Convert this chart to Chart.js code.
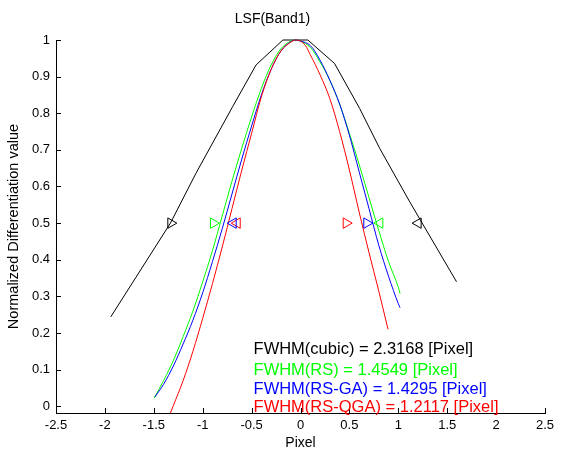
<!DOCTYPE html>
<html>
<head>
<meta charset="utf-8">
<script src="https://cdn.jsdelivr.net/npm/chart.js@4/dist/chart.umd.min.js"></script>
<style>
html,body{margin:0;padding:0;background:#fff;}
canvas{display:block;}
</style>
</head>
<body>
<canvas id="c" width="562" height="452"></canvas>
<script>
// ---------- data ----------
const xTicks = [-2.5, -2, -1.5, -1, -0.5, 0, 0.5, 1, 1.5, 2, 2.5];
const xTickLabels = ['-2.5', '-2', '-1.5', '-1', '-0.5', '0', '0.5', '1', '1.5', '2', '2.5'];
const yTicks = [0, 0.1, 0.2, 0.3, 0.4, 0.5, 0.6, 0.7, 0.8, 0.9, 1];
const yTickLabels = ['0', '0.1', '0.2', '0.3', '0.4', '0.5', '0.6', '0.7', '0.8', '0.9', '1'];

const seriesNames = ['cubic', 'RS', 'RS-GA', 'RS-QGA'];
const fwhmValues = ['2.3168', '1.4549', '1.4295', '1.2117'];

const cubicX = [-1.94, -1.33, -1.069, -0.694, -0.454, -0.18, 0.075, 0.348, 0.605, 0.81, 1.117, 1.595];
const cubicY = [0.244, 0.50, 0.636, 0.818, 0.932, 1.0, 1.0, 0.936, 0.813, 0.704, 0.558, 0.34];

const rsX = [-1.496, -1.4, -1.3, -1.2, -1.1, -1.0, -0.9, -0.8, -0.7, -0.6, -0.5, -0.4, -0.3, -0.2, -0.1, -0.05, 0, 0.1, 0.2, 0.3, 0.4, 0.5, 0.6, 0.7, 0.8, 0.9, 1.0, 1.018];
const rsY = [0.022, 0.07, 0.125, 0.19, 0.26, 0.34, 0.425, 0.52, 0.615, 0.705, 0.79, 0.868, 0.932, 0.976, 0.997, 1.0, 0.997, 0.98, 0.94, 0.89, 0.825, 0.745, 0.66, 0.57, 0.48, 0.395, 0.325, 0.308];

const rsgaX = [-1.49, -1.4, -1.3, -1.2, -1.1, -1.0, -0.9, -0.8, -0.7, -0.6, -0.5, -0.4, -0.3, -0.2, -0.1, -0.05, 0, 0.1, 0.2, 0.3, 0.4, 0.5, 0.6, 0.7, 0.8, 0.9, 1.0, 1.018];
const rsgaY = [0.025, 0.06, 0.11, 0.17, 0.235, 0.31, 0.395, 0.485, 0.58, 0.675, 0.765, 0.85, 0.92, 0.97, 0.995, 1.0, 0.997, 0.985, 0.945, 0.89, 0.825, 0.74, 0.64, 0.54, 0.44, 0.355, 0.28, 0.269];

const rsqgaX = [-1.33, -1.3, -1.2, -1.1, -1.0, -0.9, -0.8, -0.7, -0.6, -0.5, -0.4, -0.3, -0.2, -0.1, -0.05, 0, 0.05, 0.1, 0.2, 0.3, 0.4, 0.5, 0.6, 0.7, 0.8, 0.895];
const rsqgaY = [-0.0185, 0.002, 0.07, 0.15, 0.24, 0.335, 0.435, 0.54, 0.645, 0.745, 0.845, 0.92, 0.97, 0.994, 1.0, 0.997, 0.985, 0.96, 0.905, 0.84, 0.75, 0.645, 0.53, 0.42, 0.315, 0.21];

// half-maximum markers (left, right) per series
const markLevel = 0.5;
const cubicMarks = [-1.326, 1.203];
const rsMarks = [-0.89, 0.811];
const rsgaMarks = [-0.688, 0.678];
const rsqgaMarks = [-0.647, 0.467];

// ---------- styling / layout ----------
const FONT = "'Liberation Sans', Arial, Helvetica, sans-serif";
const colors = ['#000000', '#00ff00', '#0000ff', '#ff0000'];
const markRot = [[90, -90], [90, -90], [-90, 90], [-90, 90]]; // ▷ / ◁ orientation
const textAnchorX = -0.48;
const textAnchorY = [0.155, 0.099, 0.047, -0.004];

const pts = (xs, ys) => xs.map((x, i) => ({x, y: ys[i]}));
const curves = [pts(cubicX, cubicY), pts(rsX, rsY), pts(rsgaX, rsgaY), pts(rsqgaX, rsqgaY)];
const marks = [cubicMarks, rsMarks, rsgaMarks, rsqgaMarks];

const datasets = [];
curves.forEach((d, i) => {
  datasets.push({
    label: seriesNames[i],
    data: d,
    borderColor: colors[i],
    borderWidth: 1,
    pointRadius: 0,
    showLine: true,
    fill: false,
    tension: i === 0 ? 0 : 0.4,
    cubicInterpolationMode: i === 0 ? 'default' : 'monotone',
    clip: false,
    order: 10 - i
  });
});
marks.forEach((m, i) => {
  datasets.push({
    label: seriesNames[i] + ' FWHM',
    data: m.map(x => ({x, y: markLevel})),
    showLine: false,
    borderColor: colors[i],
    backgroundColor: 'rgba(0,0,0,0)',
    pointStyle: 'triangle',
    pointRadius: 6,
    pointBorderWidth: 1,
    pointRotation: markRot[i],
    order: 0
  });
});

const insideTicks = {
  id: 'insideTicks',
  afterDatasetsDraw(chart) {
    const {ctx, chartArea: a, scales: {x, y}} = chart;
    ctx.save();
    ctx.strokeStyle = '#000';
    ctx.lineWidth = 1;
    ctx.beginPath();
    xTicks.forEach(v => {
      const px = Math.round(x.getPixelForValue(v)) + 0.5;
      ctx.moveTo(px, a.bottom);
      ctx.lineTo(px, a.bottom - 5);
    });
    yTicks.forEach(v => {
      const py = Math.round(y.getPixelForValue(v)) + 0.5;
      ctx.moveTo(a.left, py);
      ctx.lineTo(a.left + 5, py);
    });
    ctx.stroke();
    ctx.restore();
  }
};

const fwhmText = {
  id: 'fwhmText',
  afterDraw(chart) {
    const {ctx, scales: {x, y}} = chart;
    ctx.save();
    ctx.font = '16.5px ' + FONT;
    ctx.textAlign = 'left';
    ctx.textBaseline = 'middle';
    seriesNames.forEach((n, i) => {
      ctx.fillStyle = colors[i];
      ctx.fillText('FWHM(' + n + ') = ' + fwhmValues[i] + ' [Pixel]',
        x.getPixelForValue(textAnchorX), y.getPixelForValue(textAnchorY[i]));
    });
    ctx.restore();
  }
};

new Chart(document.getElementById('c'), {
  type: 'scatter',
  data: {datasets},
  plugins: [insideTicks, fwhmText],
  options: {
    responsive: false,
    animation: false,
    devicePixelRatio: 1,
    layout: {padding: {top: 0, right: 17, bottom: 0, left: 0}},
    plugins: {
      legend: {display: false},
      tooltip: {enabled: false},
      title: {
        display: true,
        text: 'LSF(Band1)',
        color: '#000',
        font: {family: FONT, size: 14, weight: 'normal'},
        padding: {top: 10.6, bottom: 12.6}
      }
    },
    scales: {
      x: {
        type: 'linear',
        min: -2.5, max: 2.5,
        afterBuildTicks: s => { s.ticks = xTicks.map(v => ({value: v})); },
        afterFit: s => { s.height = 39; },
        grid: {display: false, drawTicks: false},
        border: {display: true, color: '#000', width: 1},
        ticks: {
          color: '#000', padding: 5, maxRotation: 0, autoSkip: false,
          font: {family: FONT, size: 13},
          callback: (v, i) => xTickLabels[i]
        },
        title: {display: true, text: 'Pixel', color: '#000', font: {family: FONT, size: 14}, padding: {top: 0, bottom: 0}}
      },
      y: {
        type: 'linear',
        min: -0.0185, max: 1,
        afterBuildTicks: s => { s.ticks = yTicks.map(v => ({value: v})); },
        afterFit: s => { s.width = 56; },
        grid: {display: false, drawTicks: false},
        border: {display: true, color: '#000', width: 1},
        ticks: {
          color: '#000', padding: 6, autoSkip: false,
          font: {family: FONT, size: 13},
          callback: (v, i) => yTickLabels[i]
        },
        title: {display: true, text: 'Normalized Differentiation value', color: '#000', font: {family: FONT, size: 14.5}, padding: {top: 5.4, bottom: 0}}
      }
    }
  }
});
</script>
</body>
</html>
